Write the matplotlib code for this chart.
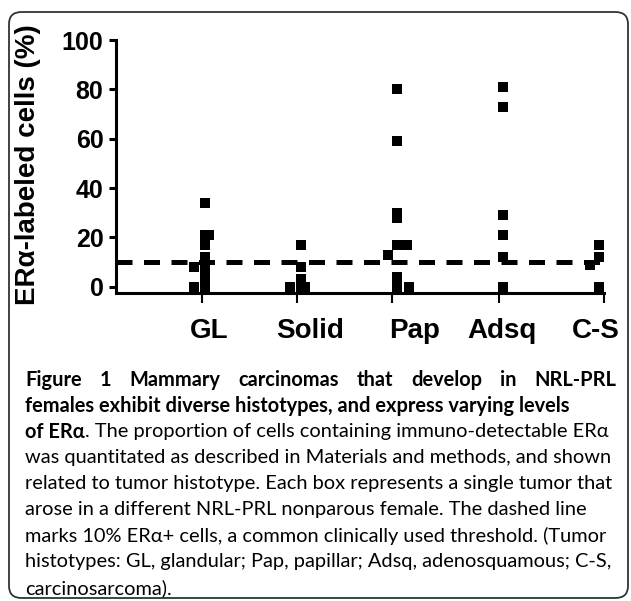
import matplotlib
matplotlib.use("Agg")
import matplotlib.pyplot as plt
from matplotlib.patches import FancyBboxPatch

# ER-alpha labelled cells (%) per tumour, one list per histotype
categories = ["GL", "Solid", "Pap", "Adsq", "C-S"]
gl = [34, 21, 21, 17, 12, 8, 4, 0, 8, 0]
solid = [17, 8, 3, 0, 0, 0]
pap = [80, 59, 30, 28, 17, 17, 13, 4, 0, 0]
adsq = [81, 73, 29, 21, 12, 0]
cs = [17, 12, 9, 0]
threshold = 10
yticks = [0, 20, 40, 60, 80, 100]

caption = [
    "Figure 1 Mammary carcinomas that develop in NRL-PRL",
    "females exhibit diverse histotypes, and express varying levels",
    "of ERα",
    ". The proportion of cells containing immuno-detectable ERα",
    "was quantitated as described in Materials and methods, and shown",
    "related to tumor histotype. Each box represents a single tumor that",
    "arose in a different NRL-PRL nonparous female. The dashed line",
    "marks 10% ERα+ cells, a common clinically used threshold. (Tumor",
    "histotypes: GL, glandular; Pap, papillar; Adsq, adenosquamous; C-S,",
    "carcinosarcoma).",
]

# layout: column centres, sideways nudges of overlapping boxes, label spots
col_x = [1.03, 2.04, 3.05, 4.165, 5.18]
gl_dx = [0, 0, 0.04, 0, 0, 0, 0, 0, -0.115, -0.115]
solid_dx = [0, 0, 0, 0, 0.04, -0.11]
pap_dx = [0, 0, 0, 0, 0, 0.11, -0.09, 0, 0, 0.13]
adsq_dx = [0, 0, 0, 0, 0, 0]
cs_dx = [0, 0, -0.095, 0]
tick_x = [1, 2, 3, 4.126, 5.23]
label_x = [1.074, 2.137, 3.24, 4.16, 5.147]

plt.rcParams['font.family'] = ['Liberation Sans', 'DejaVu Sans']

W, H = 631, 601
fig = plt.figure(figsize=(W / 100, H / 100), dpi=100)

ax = fig.add_axes([116 / W, 1 - 293 / H, (604 - 116) / W, (293 - 40) / H])
ax.set_xlim(0.095, 5.23)
ax.set_ylim(-2.5, 100)

for x0, vals, dx in zip(col_x, [gl, solid, pap, adsq, cs],
                        [gl_dx, solid_dx, pap_dx, adsq_dx, cs_dx]):
    ax.plot([x0 + d for d in dx], vals, linestyle='none', marker='s',
            markersize=6.5, color='black', markeredgewidth=0, clip_on=False)

ax.axhline(threshold, xmin=0, xmax=1.007, color='black', lw=3.6,
           linestyle=(0, (3.2, 2.3)), clip_on=False, zorder=3)

for s in ['top', 'right']:
    ax.spines[s].set_visible(False)
for s in ['left', 'bottom']:
    ax.spines[s].set_linewidth(2.2)

ax.set_yticks(yticks)
ax.set_yticklabels([str(v) for v in yticks], fontsize=18, fontweight='bold')
ax.tick_params(axis='y', direction='out', length=5, width=2.2, pad=4)
ax.set_xticks(tick_x)
ax.tick_params(axis='x', direction='out', length=7, width=1.5, labelbottom=False)

for x, name in zip(label_x, categories):
    ax.text(x, -20.7, name, ha='center', va='baseline', fontsize=20,
            fontweight='bold', clip_on=False)

fig.text(28 / W, 1 - 165 / H, "ERα-labeled cells (%)", rotation=90,
         ha='center', va='center', fontsize=20, fontweight='bold')

# caption below the plot
cap_font = ['Lato', 'DejaVu Sans']
r = fig.canvas.get_renderer()


def width_px(s, size, weight):
    t = fig.text(0, 0, s, fontsize=size, fontweight=weight, family=cap_font)
    w = t.get_window_extent(renderer=r).width
    t.remove()
    return w


size = 13 * 585 / width_px(caption[4], 13, 'normal')
x_left = 25
y0, step = 380, 26


def put(s, x, y, weight='normal'):
    fig.text(x / W, 1 - y / H, s, fontsize=size, fontweight=weight,
             family=cap_font, ha='left', va='center')


# first line justified across the full width
words = caption[0].split()
ws = [width_px(w, size, 'bold') for w in words]
gap = (616 - x_left - sum(ws)) / (len(words) - 1)
x = x_left
for w, wd in zip(words, ws):
    put(w, x, y0, 'bold')
    x += wd + gap

put(caption[1], x_left, y0 + step, 'bold')
put(caption[2], x_left, y0 + 2 * step, 'bold')
w_b = width_px(caption[2], size, 'bold')
put(caption[3], x_left + w_b, y0 + 2 * step)
for i, line in enumerate(caption[4:]):
    put(line, x_left, y0 + (3 + i) * step)

fig.patches.append(FancyBboxPatch((9 / W, 1 - 598 / H), (628 - 9) / W, (598 - 12) / H,
                                  boxstyle="round,pad=0,rounding_size=0.02",
                                  transform=fig.transFigure, fill=False,
                                  ec='#333333', lw=1.3))

fig.savefig("out.png", dpi=100)
